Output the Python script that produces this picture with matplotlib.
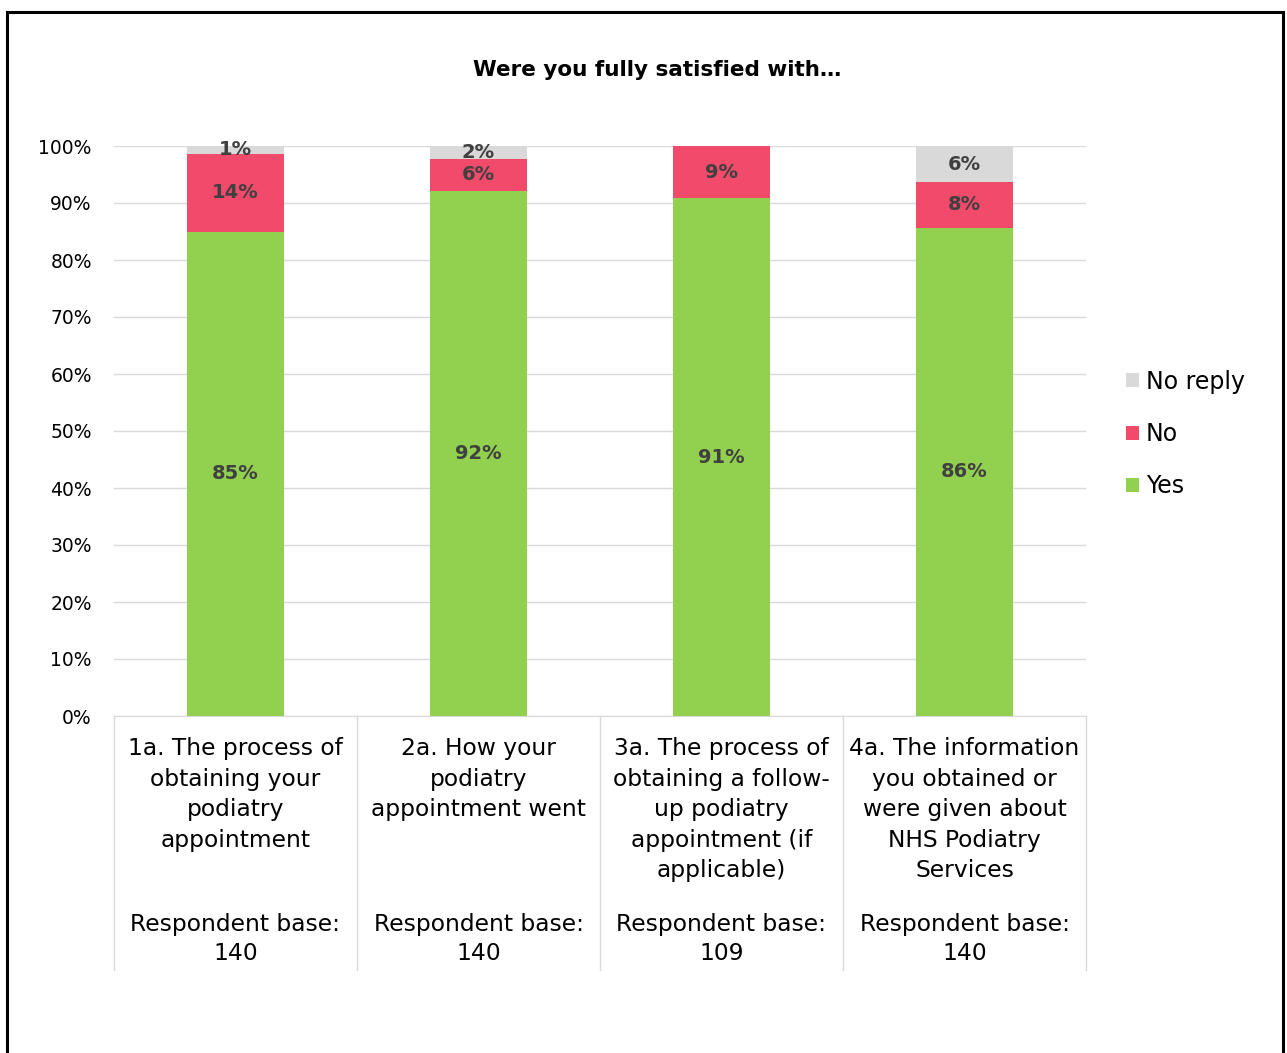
import matplotlib
matplotlib.use("Agg")
import matplotlib.pyplot as plt
import matplotlib.transforms as mtransforms
from matplotlib.patches import Rectangle, Patch
from matplotlib.ticker import PercentFormatter

# Data (shares of respondents)
questions = [
    "1a. The process of\nobtaining your\npodiatry\nappointment",
    "2a. How your\npodiatry\nappointment went",
    "3a. The process of\nobtaining a follow-\nup podiatry\nappointment (if\napplicable)",
    "4a. The information\nyou obtained or\nwere given about\nNHS Podiatry\nServices",
]
bases = [140, 140, 109, 140]
yes = [0.850, 0.921, 0.908, 0.857]
no = [0.136, 0.057, 0.092, 0.079]
no_reply = [0.014, 0.021, 0.0, 0.064]

series_names = ["Yes", "No", "No reply"]
colors = ["#92d050", "#f24a6a", "#d9d9d9"]
label_color = "#404040"

plt.rcParams["font.family"] = ["DejaVu Sans"]

fig = plt.figure(figsize=(12.87, 10.53), dpi=100)
W, H = 1287, 1053

# Plot area in pixel coordinates
x0, x1 = 114, 1086
y_top, y_bot = 146, 716
ax = fig.add_axes([x0 / W, 1 - y_bot / H, (x1 - x0) / W, (y_bot - y_top) / H])

x = list(range(len(questions)))
bottoms = [0.0] * len(x)
handles = []
for vals, name, col in zip([yes, no, no_reply], series_names, colors):
    ax.bar(x, vals, width=0.4, bottom=bottoms, color=col, zorder=3)
    for xi, b, v in zip(x, bottoms, vals):
        if v > 0:
            ax.text(xi, b + v / 2, f"{round(v * 100):.0f}%", ha="center", va="center",
                    fontsize=14, fontweight="bold", color=label_color, zorder=4)
    bottoms = [b + v for b, v in zip(bottoms, vals)]
    handles.append(Patch(facecolor=col, label=name))

ax.set_xlim(-0.5, len(x) - 0.5)
ax.set_ylim(0, 1)
ax.set_yticks([i / 10 for i in range(11)])
ax.yaxis.set_major_formatter(PercentFormatter(1.0, decimals=0))
ax.tick_params(axis="y", length=0, labelsize=13.5, pad=16, labelcolor="#000000")
ax.set_xticks([])
ax.grid(axis="y", color="#d9d9d9", linewidth=1, zorder=0)
for s in ["top", "right", "left"]:
    ax.spines[s].set_visible(False)
ax.spines["bottom"].set_color("#d9d9d9")

# category boxes below the axis
trans = mtransforms.blended_transform_factory(ax.transData, ax.transAxes)
drop = (970 - y_bot) / (y_bot - y_top)
for b in [i - 0.5 for i in range(len(x) + 1)]:
    ax.plot([b, b], [0, -drop], transform=trans, color="#d9d9d9", lw=1, clip_on=False)

q_top = -(737 - y_bot) / (y_bot - y_top)
base_y = -(939 - y_bot) / (y_bot - y_top)
for xi, q, n in zip(x, questions, bases):
    ax.text(xi, q_top, q, transform=trans, ha="center", va="top", fontsize=16.8,
            linespacing=1.42, color="#000000")
    ax.text(xi, base_y, f"Respondent base:\n{n}", transform=trans, ha="center",
            va="center", fontsize=16.8, linespacing=1.36, color="#000000")

fig.text(657 / W, 1 - 70 / H, "Were you fully satisfied with\u2026", ha="center",
         va="center", fontsize=15.5, fontweight="bold")

fig.legend(handles=handles[::-1], loc="center left",
           bbox_to_anchor=(1126 / W, 1 - 434 / H), frameon=False, fontsize=17,
           handlelength=0.55, handleheight=0.55, handletextpad=0.3,
           labelspacing=1.2, borderpad=0, borderaxespad=0)

# outer chart border
fig.patches.append(Rectangle((7 / W, -0.05), (1283 - 7) / W, 1.05 - 12 / H,
                             transform=fig.transFigure, fill=False,
                             edgecolor="black", linewidth=2.2))

fig.savefig("out.png", dpi=100)
